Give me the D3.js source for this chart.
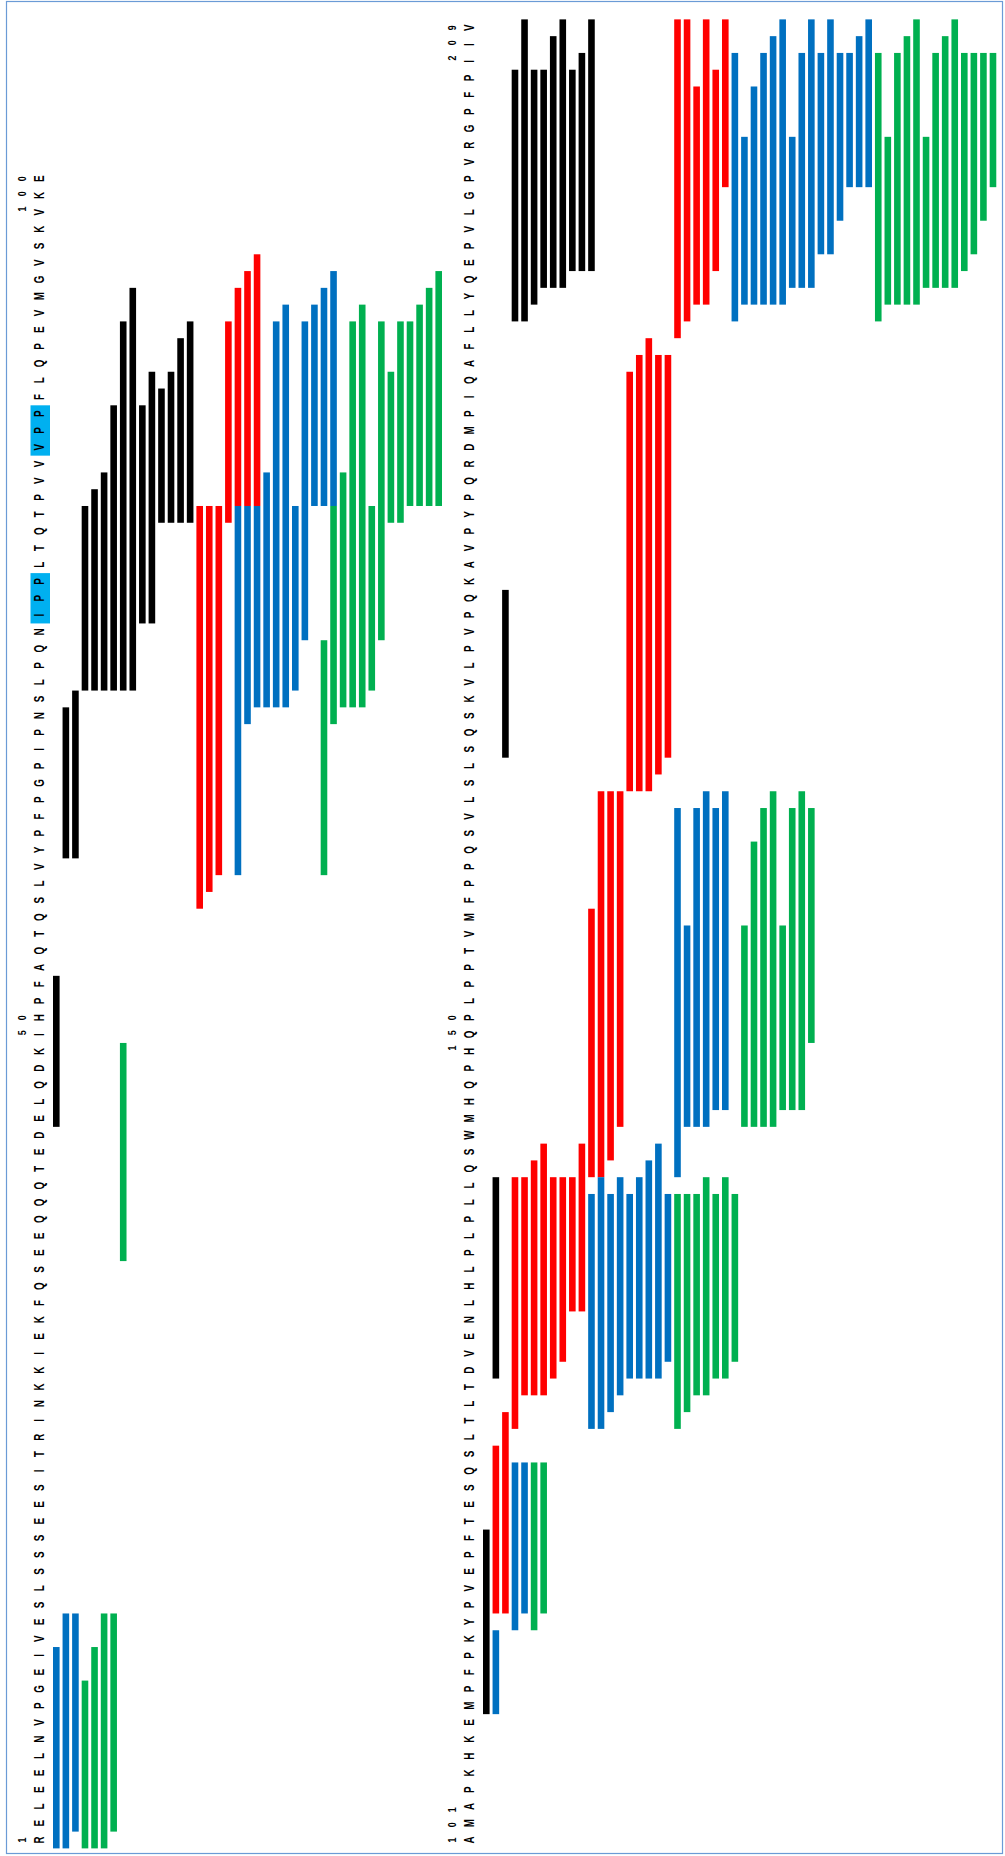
<!DOCTYPE html>
<html>
<head>
<meta charset="utf-8">
<script src="https://cdn.jsdelivr.net/npm/d3@7"></script>
<style>
  body { margin: 0; background: #fff; }
  svg text { font-family: "Liberation Sans", Arial, sans-serif; }
</style>
</head>
<body>
<div id="chart"></div>
<script>
"use strict";

// beta-casein, residues 1-209
var sequence = "RELEELNVPGEIVESLSSSEESITRINKKIEKFQSEEQQQTEDELQDKIHPFAQTQSLVYPFPGPIPNSLPQNIPPLTQTPVVVPPFLQPEVMGVSKVKE" +
               "AMAPKHKEMPFPKYPVEPFTESQSLTLTDVENLHLPLPLLQSWMHQPHQPLPPTVMFPPQSVLSLSQSKVLPVPQKAVPYPQRDMPIQAFLLYQEPVLGPVRGPFPIIV";

var panelStarts = [1, 101];
var panelEnds = [100, 209];
var numberLabels = [1, 50, 100, 101, 150, 209];
var highlights = [[74, 76], [84, 86]];

// peptides: [first residue, last residue, track]
var blackPeptides = [
  [44,52,0],[60,68,1],[60,69,2],[70,80,3],[70,81,4],[70,82,5],[70,86,6],[70,91,7],[70,93,8],
  [74,86,9],[74,88,10],[80,87,11],[80,88,12],[80,90,13],[80,91,14],
  [109,119,0],[129,140,1],[166,175,2],[192,206,3],[192,209,4],[193,206,5],[194,206,6],[194,208,7],
  [194,209,8],[195,206,9],[195,207,10],[195,209,11]
];
var redPeptides = [
  [57,80,15],[58,80,16],[59,80,17],[80,91,18],[81,93,19],[81,94,20],[81,95,21],
  [115,124,1],[115,126,2],[126,140,3],[128,140,4],[128,141,5],[128,142,6],[129,140,7],[130,140,8],
  [133,140,9],[133,142,10],[141,156,11],[141,163,12],[142,163,13],[144,163,14],[164,188,15],
  [164,189,16],[164,190,17],[165,189,18],[166,189,19],[191,209,20],[192,209,21],[193,205,22],
  [193,209,23],[195,206,24],[200,209,25]
];
var bluePeptides = [
  [1,12,0],[1,14,1],[2,14,2],[59,80,19],[68,80,20],[69,80,21],[69,82,22],[69,91,23],[69,92,24],
  [70,80,25],[73,91,26],[81,92,27],[81,93,28],[81,94,29],
  [109,113,1],[114,123,3],[115,123,4],[126,139,11],[126,140,12],[127,139,13],[128,140,14],
  [129,139,15],[129,140,16],[129,141,17],[129,142,18],[130,139,19],[141,162,20],[144,155,21],
  [144,162,22],[144,163,23],[145,162,24],[145,163,25],[192,207,26],[193,202,27],[193,205,28],
  [193,207,29],[193,208,30],[193,209,31],[194,202,32],[194,207,33],[194,209,34],[196,207,35],
  [196,209,36],[198,207,37],[200,207,38],[200,208,39],[200,209,40]
];
var greenPeptides = [
  [1,10,3],[1,12,4],[1,14,5],[2,14,6],[36,48,7],[59,72,28],[68,80,29],[69,82,30],[69,91,31],
  [69,92,32],[70,80,33],[73,91,34],[80,88,35],[80,91,36],[81,91,37],[81,92,38],[81,93,39],[81,94,40],
  [114,123,5],[115,123,6],[126,139,20],[127,139,21],[128,139,22],[128,140,23],[129,139,24],
  [129,140,25],[130,139,26],[144,155,27],[144,160,28],[144,162,29],[144,163,30],[145,155,31],
  [145,162,32],[145,163,33],[149,162,34],[192,207,41],[193,202,42],[193,207,43],[193,208,44],
  [193,209,45],[194,202,46],[194,207,47],[194,208,48],[194,209,49],[195,207,50],[196,207,51],
  [198,207,52],[200,207,53]
];

var groups = [
  {name: "black", color: "#000000", peptides: blackPeptides},
  {name: "red",   color: "#ff0000", peptides: redPeptides},
  {name: "blue",  color: "#0070c0", peptides: bluePeptides},
  {name: "green", color: "#00b050", peptides: greenPeptides}
];

var width = 1005;
var height = 1856;
var step = 16.78;          // one residue
var panelLeft = [0, 430];   // horizontal offset of each panel
var barWidth = 6.6;

var svg = d3.select("#chart")
  .append("svg")
    .attr("width", width)
    .attr("height", height);

// frame
svg.append("rect")
  .attr("x", 6.5).attr("y", 1.5)
  .attr("width", 996).attr("height", 1852)
  .attr("fill", "none")
  .attr("stroke", "#6b9bd6")
  .attr("stroke-width", 1.2);

// residue position inside a panel -> y
var y = d3.scaleLinear()
  .domain([0, 108])
  .range([1840, 1840 - 108 * step]);

// track -> x (left edge of the first panel)
var x = d3.scaleLinear()
  .domain([0, 53])
  .range([53, 53 + 53 * 9.56]);

function panelOf(r) { return r <= panelEnds[0] ? 0 : 1; }
function pos(r) { return r - panelStarts[panelOf(r)]; }

// highlighted residues
svg.selectAll("rect.hl")
  .data(highlights)
  .enter()
  .append("rect")
    .attr("class", "hl")
    .attr("x", function(d) { return 30.5 + panelLeft[panelOf(d[0])]; })
    .attr("y", function(d) { return y(pos(d[1]) + 0.5); })
    .attr("width", 19.5)
    .attr("height", function(d) { return y(pos(d[0]) - 0.5) - y(pos(d[1]) + 0.5); })
    .attr("fill", "#00b0f0");

// sequence letters
var residues = sequence.split("").map(function(c, i) { return {aa: c, r: i + 1}; });
svg.selectAll("text.aa")
  .data(residues)
  .enter()
  .append("text")
    .attr("class", "aa")
    .attr("transform", function(d) {
      return "translate(" + (43.5 + panelLeft[panelOf(d.r)]) + "," + y(pos(d.r)) + ") rotate(-90) scale(0.7,1)";
    })
    .attr("text-anchor", "middle")
    .attr("font-size", 14)
    .attr("font-weight", "bold")
    .attr("fill", "#000")
    .text(function(d) { return d.aa; });

// residue numbers: one digit per slot, the last digit at the residue,
// pushed up when the label would run past the bottom of its panel
var digitStep = 0.9;
var digits = [];
numberLabels.forEach(function(n) {
  var s = String(n);
  var last = Math.max(pos(n), (s.length - 1) * digitStep);
  s.split("").forEach(function(c, i) {
    digits.push({c: c, r: n, p: last - (s.length - 1 - i) * digitStep});
  });
});
svg.selectAll("text.num")
  .data(digits)
  .enter()
  .append("text")
    .attr("class", "num")
    .attr("transform", function(d) {
      return "translate(" + (26 + panelLeft[panelOf(d.r)]) + "," + y(d.p) + ") rotate(-90) scale(0.8,1)";
    })
    .attr("text-anchor", "middle")
    .attr("font-size", 11)
    .attr("font-weight", "bold")
    .attr("fill", "#000")
    .text(function(d) { return d.c; });

// peptide bars
groups.forEach(function(g) {
  svg.append("g")
    .attr("fill", g.color)
    .selectAll("rect")
    .data(g.peptides)
    .enter()
    .append("rect")
      .attr("x", function(d) { return x(d[2]) + panelLeft[panelOf(d[0])]; })
      .attr("y", function(d) { return y(pos(d[1]) + 0.5); })
      .attr("width", barWidth)
      .attr("height", function(d) { return y(pos(d[0]) - 0.5) - y(pos(d[1]) + 0.5); });
});
</script>
</body>
</html>
